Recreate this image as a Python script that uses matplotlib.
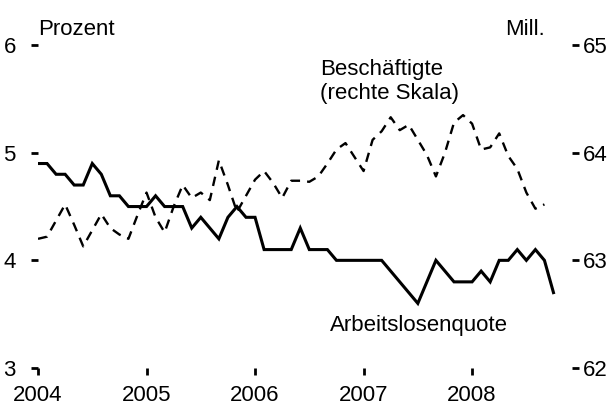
import matplotlib as mpl
mpl.use('Agg')
import matplotlib.pyplot as plt
import numpy as np

plt.rcParams['font.family'] = ['Liberation Sans Narrow', 'Liberation Sans', 'DejaVu Sans']

# Arbeitslosenquote (Prozent), monthly Jan 2004 - Oct 2008
quote = [4.9, 4.9, 4.8, 4.8, 4.7, 4.7, 4.9, 4.8, 4.6, 4.6, 4.5, 4.5,
         4.5, 4.6, 4.5, 4.5, 4.5, 4.3, 4.4, 4.3, 4.2, 4.4, 4.5, 4.4,
         4.4, 4.1, 4.1, 4.1, 4.1, 4.3, 4.1, 4.1, 4.1, 4.0, 4.0, 4.0,
         4.0, 4.0, 4.0, 3.9, 3.8, 3.7, 3.6, 3.8, 4.0, 3.9, 3.8, 3.8,
         3.8, 3.9, 3.8, 4.0, 4.0, 4.1, 4.0, 4.1, 4.0, 3.7]

# Beschaeftigte (Mill.), monthly Jan 2004 - Sep 2008
besch = [63.20, 63.22, 63.37, 63.52, 63.33, 63.13, 63.28, 63.43, 63.30, 63.24, 63.20, 63.42,
         63.63, 63.40, 63.26, 63.50, 63.70, 63.58, 63.63, 63.56, 63.93, 63.70, 63.45, 63.60,
         63.75, 63.83, 63.72, 63.58, 63.74, 63.74, 63.73, 63.78, 63.90, 64.03, 64.09, 63.96,
         63.83, 64.12, 64.20, 64.33, 64.21, 64.26, 64.12, 63.98, 63.78, 64.00, 64.28, 64.35,
         64.27, 64.03, 64.05, 64.18, 63.97, 63.85, 63.63, 63.48, 63.52]

years = [2004, 2005, 2006, 2007, 2008]

x_q = 2004 + np.arange(len(quote)) / 12
x_b = 2004 + np.arange(len(besch)) / 12

fig = plt.figure(figsize=(6.13, 4.07), dpi=100)
ax = fig.add_axes([0.062, 0.096, 0.871, 0.793])
ax2 = ax.twinx()

ax.plot(x_q, quote, color='black', lw=2.2, solid_joinstyle='miter')
ax2.plot(x_b, besch, color='black', lw=1.7, dashes=(4, 3))

ax.set_xlim(2004, 2008.92)
ax.set_ylim(3, 6)
ax2.set_ylim(62, 65)
ax.set_yticks([3, 4, 5, 6])
ax2.set_yticks([62, 63, 64, 65])
ax.set_xticks(years)
ax.set_xticklabels([str(y) for y in years])

for a in (ax, ax2):
    for s in a.spines.values():
        s.set_visible(False)
    a.tick_params(labelsize=16, width=2, length=5, color='black')
ax.tick_params(axis='y', pad=11)
ax2.tick_params(axis='y', pad=3)
ax.tick_params(axis='x', length=5, width=2, pad=7)

ax.text(0.0, 1.015, 'Prozent', transform=ax.transAxes, fontsize=16, ha='left', va='bottom')
ax.text(0.949, 1.015, 'Mill.', transform=ax.transAxes, fontsize=16, ha='right', va='bottom')
ax.text(2006.6, 5.87, 'Beschäftigte\n(rechte Skala)', fontsize=16, ha='left', va='top',
        linespacing=1.2)
ax.text(2006.69, 3.49, 'Arbeitslosenquote', fontsize=16, ha='left', va='top')

fig.savefig('out.png', dpi=100)
